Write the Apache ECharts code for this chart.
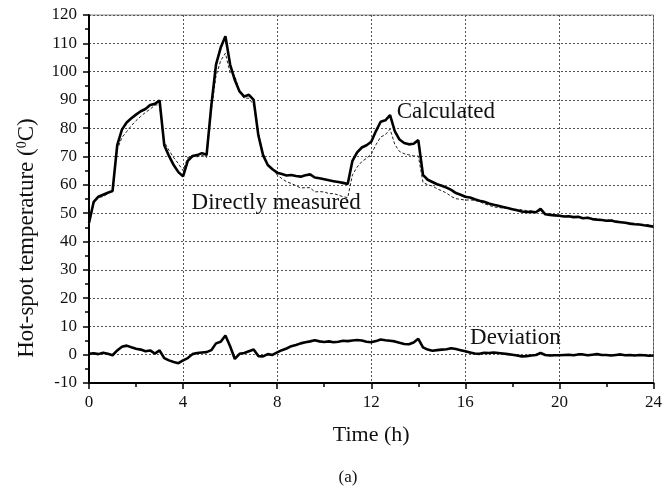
<!DOCTYPE html>
<html>
<head>
<meta charset="utf-8">
<script src="https://cdn.jsdelivr.net/npm/echarts@6/dist/echarts.min.js"></script>
<style>html,body{margin:0;padding:0;background:#fff;}#chart{width:665px;height:489px;}</style>
</head>
<body>
<div id="chart"></div>
<script>
// Time (h), sampled every 0.2 h
const hours = [];
for (let i = 0; i <= 120; i++) hours.push(+(i * 0.2).toFixed(1));

const calculated = [
46.5,54.0,55.8,56.5,57.2,57.8,74.0,79.5,82.0,83.5,
84.8,86.0,86.8,88.2,88.6,89.8,74.0,70.2,67.0,64.5,
63.0,68.5,70.2,70.5,71.2,70.6,88.0,102.5,108.5,112.5,
102.5,97.0,93.0,91.2,91.8,90.0,77.5,70.5,67.0,65.5,
64.3,63.8,63.3,63.5,63.1,62.9,63.4,63.7,62.6,62.3,
62.0,61.6,61.3,61.0,60.7,60.3,68.5,71.5,73.2,74.0,
75.2,79.0,82.3,82.8,84.6,79.0,76.0,74.8,74.3,74.5,
75.8,63.5,61.8,61.0,60.2,59.7,59.0,58.2,57.1,56.5,
55.8,55.5,54.9,54.4,54.0,53.4,53.0,52.6,52.2,51.8,
51.4,51.0,50.6,50.4,50.5,50.3,51.5,49.6,49.4,49.2,
49.1,48.8,48.9,48.6,48.7,48.2,48.4,47.9,47.7,47.6,
47.3,47.4,47.0,46.8,46.6,46.3,46.1,46.0,45.7,45.5,
45.2];

const measured = [
46.2,53.5,55.6,55.8,56.9,58.0,72.5,76.7,78.8,80.9,
82.7,84.2,85.6,86.7,88.2,88.3,75.2,72.2,69.6,67.5,
65.0,69.7,70.0,69.9,70.4,69.7,86.4,98.5,103.9,106.5,
99.5,98.5,92.7,90.6,90.6,88.2,78.0,71.1,66.8,65.6,
63.5,62.2,61.1,60.5,59.7,58.9,59.0,59.0,57.5,57.6,
57.5,56.9,56.9,56.4,55.8,55.5,63.5,66.3,68.2,69.4,
70.8,74.2,76.9,77.7,79.7,74.3,71.8,71.0,70.6,70.2,
70.2,60.9,60.0,59.6,58.6,57.9,57.1,55.9,55.1,54.9,
54.6,54.7,54.5,54.1,53.3,52.8,52.2,52.0,51.8,51.6,
51.4,51.3,51.2,50.9,50.8,50.4,50.9,49.7,49.7,49.4,
49.3,48.9,48.9,48.8,48.6,48.1,48.6,47.9,47.5,47.7,
47.4,47.7,47.1,46.7,46.8,46.4,46.4,46.1,45.9,45.9,
45.5];

const deviation = [
0.3,0.5,0.2,0.7,0.3,-0.2,1.5,2.8,3.2,2.6,
2.1,1.8,1.2,1.5,0.4,1.5,-1.2,-2.0,-2.6,-3.0,
-2.0,-1.2,0.2,0.6,0.8,0.9,1.6,4.0,4.6,6.8,
3.0,-1.5,0.3,0.6,1.2,1.8,-0.5,-0.6,0.2,-0.1,
0.8,1.6,2.2,3.0,3.4,4.0,4.4,4.7,5.1,4.7,
4.5,4.7,4.4,4.6,4.9,4.8,5.0,5.2,5.0,4.6,
4.4,4.8,5.4,5.1,4.9,4.7,4.2,3.8,3.7,4.3,
5.6,2.6,1.8,1.4,1.6,1.8,1.9,2.3,2.0,1.6,
1.2,0.8,0.4,0.3,0.7,0.6,0.8,0.6,0.4,0.2,
0.0,-0.3,-0.6,-0.5,-0.3,-0.1,0.6,-0.1,-0.3,-0.2,
-0.2,-0.1,0.0,-0.2,0.1,0.1,-0.2,0.0,0.2,-0.1,
-0.1,-0.3,-0.1,0.1,-0.2,-0.1,-0.3,-0.1,-0.2,-0.4,
-0.3];

const xTicks = [0, 4, 8, 12, 16, 20, 24];
const yTicks = [-10, 0, 10, 20, 30, 40, 50, 60, 70, 80, 90, 100, 110, 120];

const annotations = [
  { text: 'Calculated', t: 13.08, v: 85.8 },
  { text: 'Directly measured', t: 4.36, v: 53.6 },
  { text: 'Deviation', t: 16.2, v: 5.9 }
];

const font = 'Liberation Serif';
const pairs = arr => hours.map((h, i) => [h, arr[i]]);

const chart = echarts.init(document.getElementById('chart'), null, { renderer: 'canvas' });
chart.setOption({
  backgroundColor: '#fff',
  animation: false,
  grid: { left: 89, right: 9, top: 15, bottom: 106, show: true, borderColor: '#888', borderWidth: 1 },
  xAxis: {
    type: 'value', min: xTicks[0], max: xTicks[xTicks.length - 1], interval: 4,
    name: 'Time (h)', nameLocation: 'middle', nameGap: 41,
    nameTextStyle: { fontFamily: font, fontSize: 22, color: '#111' },
    axisLine: { show: true, onZero: false, lineStyle: { color: '#000', width: 2 } },
    axisTick: { show: true, inside: false, length: 6, lineStyle: { color: '#000', width: 1.5 } },
    minorTick: { show: true, splitNumber: 2, length: 4, lineStyle: { color: '#000', width: 1.5 } },
    axisLabel: { fontFamily: font, fontSize: 17, color: '#111', margin: 11 },
    splitLine: { show: true, lineStyle: { color: '#555', type: [2, 2], width: 1 } }
  },
  yAxis: {
    type: 'value', min: yTicks[0], max: yTicks[yTicks.length - 1], interval: 10,
    axisLine: { show: true, onZero: false, lineStyle: { color: '#000', width: 2 } },
    axisTick: { show: true, inside: false, length: 6, lineStyle: { color: '#000', width: 1.5 } },
    minorTick: { show: true, splitNumber: 2, length: 4, lineStyle: { color: '#000', width: 1.5 } },
    axisLabel: { fontFamily: font, fontSize: 17, color: '#111', margin: 12 },
    splitLine: { show: true, lineStyle: { color: '#555', type: [2, 2], width: 1 } }
  },
  series: [
    { name: 'Directly measured', type: 'line', data: pairs(measured), showSymbol: false, z: 3,
      lineStyle: { color: '#222', width: 1, type: [3, 2] } },
    { name: 'Calculated', type: 'line', data: pairs(calculated), showSymbol: false, z: 4,
      lineStyle: { color: '#000', width: 2.6 } },
    { name: 'Deviation', type: 'line', data: pairs(deviation), showSymbol: false, z: 4,
      lineStyle: { color: '#000', width: 2.6 } }
  ]
});

const graphics = annotations.map(a => {
  const p = chart.convertToPixel({ gridIndex: 0 }, [a.t, a.v]);
  return { type: 'text', x: p[0], y: p[1],
    style: { text: a.text, fontFamily: font, fontSize: 23, fill: '#111', verticalAlign: 'middle' } };
});
// y-axis title (rotated)
graphics.push({ type: 'text', x: 27, y: 238, rotation: Math.PI / 2,
  style: { text: 'Hot-spot temperature ({sup|0}C)', fontFamily: font, fontSize: 23, fill: '#111',
    align: 'center', verticalAlign: 'middle',
    rich: { sup: { fontFamily: font, fontSize: 14, fill: '#111', verticalAlign: 'top', padding: [0, 0, 9, 0] } } } });
graphics.push({ type: 'text', x: 348, y: 478,
  style: { text: '(a)', fontFamily: font, fontSize: 17, fill: '#111', align: 'center', verticalAlign: 'middle' } });
chart.setOption({ graphic: graphics });
</script>
</body>
</html>
